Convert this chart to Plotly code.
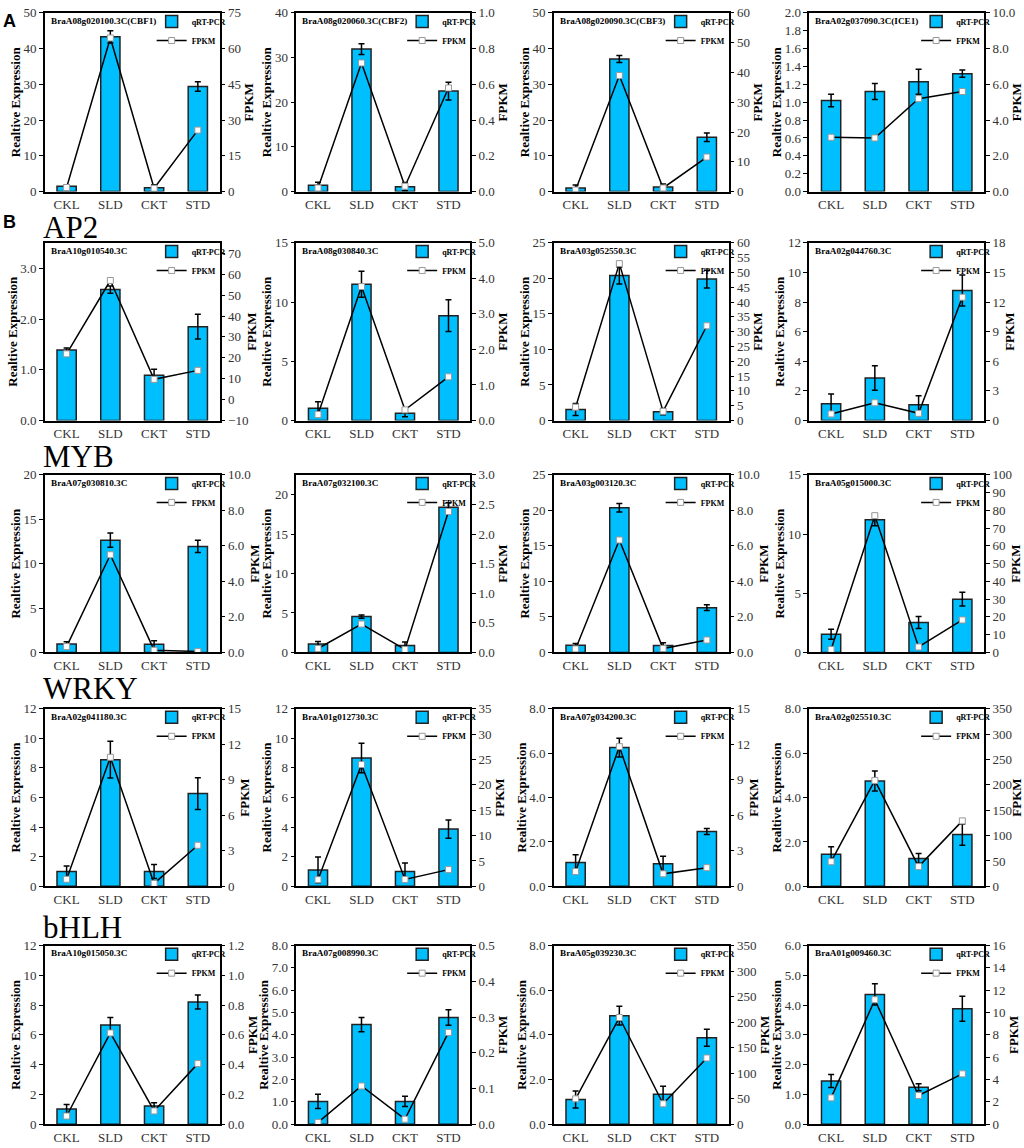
import plotly.graph_objects as go

W, H = 1024, 1148

categories = ["CKL", "SLD", "CKT", "STD"]

# row A: cold response genes
genes_A = ["BraA08g020100.3C(CBF1)", "BraA08g020060.3C(CBF2)",
           "BraA08g020090.3C(CBF3)", "BraA02g037090.3C(ICE1)"]
qpcr_A = [[1.5, 43.3, 1.1, 29.4], [1.4, 31.9, 1.1, 22.5],
          [1.0, 37.1, 1.3, 15.2], [1.02, 1.12, 1.23, 1.32]]
err_A = [[0.3, 1.7, 0.8, 1.3], [0.7, 1.2, 0.9, 2.0],
         [0.8, 1.0, 0.8, 1.2], [0.07, 0.09, 0.14, 0.04]]
fpkm_A = [[1.7, 64.5, 1.4, 25.8], [0.02, 0.72, 0.03, 0.58],
          [0.5, 39.0, 1.2, 11.6], [3.04, 3.0, 5.2, 5.6]]

# AP2
genes_AP2 = ["BraA10g010540.3C", "BraA08g030840.3C",
             "BraA03g052550.3C", "BraA02g044760.3C"]
qpcr_AP2 = [[1.39, 2.58, 0.89, 1.85], [1.03, 11.5, 0.62, 8.85],
            [1.55, 20.4, 1.25, 19.9], [1.13, 2.87, 1.07, 8.78]]
err_AP2 = [[0.04, 0.07, 0.12, 0.245], [0.55, 1.1, 0.3, 1.34],
           [0.85, 1.2, 0.45, 1.25], [0.67, 0.83, 0.6, 1.05]]
fpkm_AP2 = [[21.9, 57.0, 9.7, 14.0], [0.17, 3.77, 0.3, 1.23],
            [4.5, 53.0, 3.1, 32.0], [0.67, 1.8, 0.73, 12.5]]

# MYB
genes_MYB = ["BraA07g030810.3C", "BraA07g032100.3C",
             "BraA03g003120.3C", "BraA05g015000.3C"]
qpcr_MYB = [[0.96, 12.64, 0.92, 11.94], [1.08, 4.54, 0.88, 18.4],
            [1.02, 20.37, 0.97, 6.3], [1.53, 11.2, 2.53, 4.5]]
err_MYB = [[0.25, 0.8, 0.4, 0.68], [0.3, 0.2, 0.45, 0.55],
           [0.25, 0.6, 0.4, 0.4], [0.42, 0.5, 0.5, 0.58]]
fpkm_MYB = [[0.33, 5.5, 0.13, 0.05], [0.067, 0.48, 0.05, 2.38],
            [0.2, 6.33, 0.22, 0.7], [1.7, 77.0, 3.1, 18.3]]

# WRKY
genes_WRKY = ["BraA02g041180.3C", "BraA01g012730.3C",
              "BraA07g034200.3C", "BraA02g025510.3C"]
qpcr_WRKY = [[1.0, 8.56, 1.0, 6.27], [1.11, 8.67, 1.0, 3.87],
             [1.07, 6.25, 1.02, 2.47], [1.45, 4.74, 1.26, 2.33]]
err_WRKY = [[0.38, 1.24, 0.47, 1.07], [0.87, 0.99, 0.57, 0.62],
            [0.35, 0.42, 0.34, 0.13], [0.33, 0.45, 0.22, 0.48]]
fpkm_WRKY = [[0.6, 10.9, 0.25, 3.47], [1.3, 24.0, 1.36, 3.3],
             [1.25, 11.8, 1.06, 1.58], [48.6, 208.7, 38.9, 129.0]]

# bHLH
genes_bHLH = ["BraA10g015050.3C", "BraA07g008990.3C",
              "BraA05g039230.3C", "BraA01g009460.3C"]
qpcr_bHLH = [[1.02, 6.66, 1.22, 8.21], [1.02, 4.46, 1.02, 4.78],
             [1.11, 4.86, 1.34, 3.87], [1.45, 4.36, 1.24, 3.88]]
err_bHLH = [[0.3, 0.5, 0.22, 0.47], [0.32, 0.32, 0.23, 0.35],
            [0.38, 0.42, 0.36, 0.38], [0.22, 0.36, 0.12, 0.42]]
fpkm_bHLH = [[0.055, 0.613, 0.089, 0.407], [0.005, 0.107, 0.014, 0.257],
             [49.7, 209.0, 40.0, 129.8], [2.36, 11.15, 2.57, 4.51]]

# axis specs: (min, max, dtick, format) for left and right axes
left_axes = [
    [(0, 50, 10, "d"), (0, 40, 10, "d"), (0, 50, 10, "d"), (0, 2.0, 0.2, ".1f")],
    [(0, 3.5, 1.0, ".1f"), (0, 15, 5, "d"), (0, 25, 5, "d"), (0, 12, 2, "d")],
    [(0, 20, 5, "d"), (0, 22.5, 5, "d"), (0, 25, 5, "d"), (0, 15, 5, "d")],
    [(0, 12, 2, "d"), (0, 12, 2, "d"), (0, 8, 2, ".1f"), (0, 8, 2, ".1f")],
    [(0, 12, 2, "d"), (0, 8, 1, ".1f"), (0, 8, 2, ".1f"), (0, 6, 1, ".1f")],
]
right_axes = [
    [(0, 75, 15, "d"), (0, 1.0, 0.2, ".1f"), (0, 60, 10, "d"), (0, 10, 2, ".1f")],
    [(-10, 75, 10, "d"), (0, 5.0, 1.0, ".1f"), (0, 60, 5, "d"), (0, 18, 3, "d")],
    [(0, 10, 2, ".1f"), (0, 3.0, 0.5, ".1f"), (0, 10, 2, ".1f"), (0, 100, 10, "d")],
    [(0, 15, 3, "d"), (0, 35, 5, "d"), (0, 15, 3, "d"), (0, 350, 50, "d")],
    [(0, 1.2, 0.2, ".1f"), (0, 0.5, 0.1, ".1f"), (0, 350, 50, "d"), (0, 16, 2, "d")],
]

rows = [
    (genes_A, qpcr_A, err_A, fpkm_A),
    (genes_AP2, qpcr_AP2, err_AP2, fpkm_AP2),
    (genes_MYB, qpcr_MYB, err_MYB, fpkm_MYB),
    (genes_WRKY, qpcr_WRKY, err_WRKY, fpkm_WRKY),
    (genes_bHLH, qpcr_bHLH, err_bHLH, fpkm_bHLH),
]

# pixel frame of each panel
col_left = [45, 298, 557, 814]
col_right = [221, 473, 733, 990]
row_top = [6, 239, 474, 711, 951]
row_bottom = [187, 419, 654, 891, 1132]

SERIF = "Liberation Serif"
BAR_COLOR = "#00BFFF"

fig = go.Figure()
layout = {}
annotations = []


def ax_name(prefix, k):
    return prefix if k == 1 else f"{prefix}{k}"


def yaxis_style(spec, title, side):
    lo, hi, dt, fmt = spec
    return dict(
        range=[lo, hi], tick0=lo, dtick=dt, tickformat=fmt,
        ticks="outside", ticklen=4, tickwidth=1.2, tickcolor="black",
        showline=True, linecolor="black", linewidth=1.5,
        showgrid=False, zeroline=False, side=side,
        tickfont=dict(family=SERIF, size=13, color="#333"),
        title=dict(text=title, standoff=0,
                   font=dict(family=SERIF, size=13, color="black", weight="bold")),
    )


for r, (genes, qpcr, err, fpkm) in enumerate(rows):
    for c in range(4):
        n = r * 4 + c + 1
        yl, yr = 2 * n - 1, 2 * n
        xk = ax_name("x", n)
        ylk, yrk = ax_name("y", yl), ax_name("y", yr)
        leg = ax_name("legend", n)

        fig.add_trace(go.Bar(
            x=categories, y=qpcr[c], name="qRT-PCR", width=0.44,
            marker=dict(color=BAR_COLOR, line=dict(color="#222", width=1.5)),
            error_y=dict(type="data", array=err[c], color="black",
                         thickness=1.5, width=3),
            xaxis=xk, yaxis=ylk, legend=leg,
        ))
        fig.add_trace(go.Scatter(
            x=categories, y=fpkm[c], name="FPKM", mode="lines+markers",
            line=dict(color="black", width=1.5),
            marker=dict(symbol="square", size=6, color="white",
                        line=dict(color="#999", width=1)),
            xaxis=xk, yaxis=yrk, legend=leg,
        ))

        x0, x1 = col_left[c] / W, col_right[c] / W
        y0, y1 = 1 - row_bottom[r] / H, 1 - row_top[r] / H

        layout[ax_name("xaxis", n)] = dict(
            domain=[x0, x1], anchor=ylk, type="category", range=[-0.5, 3.5],
            showline=True, mirror=True, linecolor="black", linewidth=1.5,
            ticks="", showgrid=False,
            tickfont=dict(family=SERIF, size=13, color="#333"),
        )
        ly = yaxis_style(left_axes[r][c], "Realtive Expression", "left")
        ly.update(domain=[y0, y1], anchor=xk)
        layout[ax_name("yaxis", yl)] = ly
        ry = yaxis_style(right_axes[r][c], "FPKM", "right")
        ry.update(overlaying=ylk, anchor=xk)
        layout[ax_name("yaxis", yr)] = ry

        layout[leg] = dict(
            x=x1 + 11 / W, y=y1 + 6 / H, xanchor="right", yanchor="top",
            bgcolor="rgba(0,0,0,0)", tracegroupgap=0, itemwidth=30,
            font=dict(family=SERIF, size=8, color="black", weight="bold"),
        )

        annotations.append(dict(
            x=x0 + 4 / W, y=y1 - 8 / H, xref="paper", yref="paper",
            xanchor="left", yanchor="middle", showarrow=False, text=genes[c],
            font=dict(family=SERIF, size=9.2, color="black", weight="bold"),
        ))

# panel letters and family labels
for txt, px, py in [("A", 1, 2), ("B", 1, 206)]:
    annotations.append(dict(
        x=px / W, y=1 - py / H, xref="paper", yref="paper", xanchor="left",
        yanchor="top", showarrow=False, text=f"<b>{txt}</b>",
        font=dict(family="Liberation Sans", size=18, color="black"),
    ))
for txt, py in [("AP2", 243), ("MYB", 475), ("WRKY", 710), ("bHLH", 952)]:
    annotations.append(dict(
        x=41 / W, y=1 - py / H, xref="paper", yref="paper", xanchor="left",
        yanchor="bottom", showarrow=False, text=txt,
        font=dict(family=SERIF, size=31, color="black"),
    ))

fig.update_layout(
    width=W, height=H, margin=dict(l=0, r=0, t=0, b=0),
    plot_bgcolor="white", paper_bgcolor="white",
    barmode="group", showlegend=True, annotations=annotations,
    **layout,
)

# drop the default page margin so the figure sits at the window corner
fig.write_html("out.html", config={"displayModeBar": False},
               post_script="document.body.style.margin='0';")
